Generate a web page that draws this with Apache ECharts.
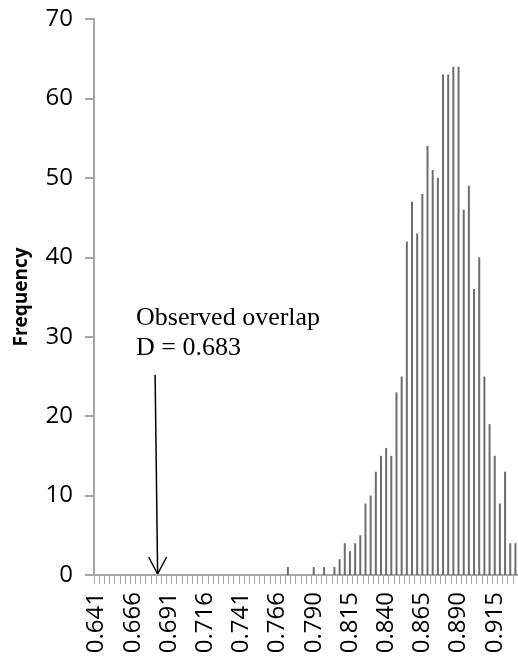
<!DOCTYPE html>
<html>
<head>
<meta charset="utf-8">
<script src="https://cdn.jsdelivr.net/npm/echarts@6/dist/echarts.min.js"></script>
<style>
html,body{margin:0;padding:0;background:#fff;}
#chart{width:518px;height:659px;}
</style>
</head>
<body>
<div id="chart"></div>
<script>
const categories = ['0.641','0.645','0.648','0.652','0.655','0.659','0.662','0.666','0.669','0.673',
'0.677','0.680','0.684','0.687','0.691','0.694','0.698','0.701','0.705','0.709',
'0.712','0.716','0.719','0.723','0.726','0.730','0.733','0.737','0.741','0.744',
'0.748','0.751','0.755','0.758','0.762','0.766','0.769','0.773','0.776','0.780',
'0.783','0.787','0.790','0.794','0.798','0.801','0.805','0.808','0.812','0.815',
'0.819','0.822','0.826','0.830','0.833','0.837','0.840','0.844','0.847','0.851',
'0.855','0.858','0.862','0.865','0.869','0.872','0.876','0.879','0.883','0.887',
'0.890','0.894','0.897','0.901','0.904','0.908','0.911','0.915','0.919','0.922',
'0.926','0.929'];
const frequency = [0,0,0,0,0,0,0,0,0,0,
0,0,0,0,0,0,0,0,0,0,
0,0,0,0,0,0,0,0,0,0,
0,0,0,0,0,0,0,1,0,0,
0,0,1,0,1,0,1,2,4,3,
4,5,9,10,13,15,16,15,23,25,
42,47,43,48,54,51,50,63,63,64,
64,46,49,36,40,25,19,15,9,13,
4,4];
const observedD = 0.683;
const annotationLines = ['Observed overlap', 'D = 0.683'];
const yAxisTitle = 'Frequency';

const chart = echarts.init(document.getElementById('chart'), null, {renderer:'canvas'});
const axisGray = '#a6a6a6';
const labelFont = 'Open Sans';
chart.setOption({
  animation:false,
  backgroundColor:'#fff',
  grid:{left:94, right:0, top:19, bottom:84, containLabel:false},
  xAxis:{
    type:'category',
    data:categories,
    axisLine:{lineStyle:{color:axisGray, width:2}},
    axisTick:{show:true, interval:0, length:9, lineStyle:{color:axisGray, width:1}},
    axisLabel:{interval:6, rotate:90, margin:17, color:'#000', fontFamily:labelFont, fontSize:24}
  },
  yAxis:{
    type:'value', min:0, max:70, interval:10,
    name:yAxisTitle, nameLocation:'middle', nameGap:63,
    nameTextStyle:{fontFamily:labelFont, fontWeight:'bold', fontSize:19, color:'#000'},
    axisLine:{show:true, lineStyle:{color:axisGray, width:2}},
    axisTick:{show:true, length:9, lineStyle:{color:axisGray, width:2}},
    axisLabel:{margin:21, color:'#000', fontFamily:labelFont, fontSize:24},
    splitLine:{show:false}
  },
  series:[{
    type:'bar', data:frequency, barWidth:2,
    itemStyle:{color:'#6d6d6d'}
  }]
});

// annotation arrow positioned from the observed value on the category scale
const c0 = parseFloat(categories[0]);
const c77 = parseFloat(categories[77]);
const idx = (observedD - c0) / ((c77 - c0) / 77);
const i0 = Math.floor(idx);
const px0 = chart.convertToPixel({xAxisIndex:0}, i0);
const px1 = chart.convertToPixel({xAxisIndex:0}, i0 + 1);
const tipX = px0 + (px1 - px0) * (idx - i0);
const tipY = chart.convertToPixel({yAxisIndex:0}, 0) - 1;
const topY = chart.convertToPixel({yAxisIndex:0}, 25.2);
chart.setOption({
  graphic:[
    {type:'line', shape:{x1:tipX-2.5, y1:topY, x2:tipX, y2:tipY}, style:{stroke:'#000', lineWidth:1.5}},
    {type:'polyline', shape:{points:[[tipX-9, tipY-17],[tipX, tipY],[tipX+9, tipY-17]]}, style:{stroke:'#000', lineWidth:1.5, fill:null}},
    {type:'text', x:136, y:305, style:{text:annotationLines[0], font:'26px "Liberation Serif", "Times New Roman", serif', fill:'#000'}},
    {type:'text', x:136, y:335, style:{text:annotationLines[1], font:'26px "Liberation Serif", "Times New Roman", serif', fill:'#000'}}
  ]
});
</script>
</body>
</html>
